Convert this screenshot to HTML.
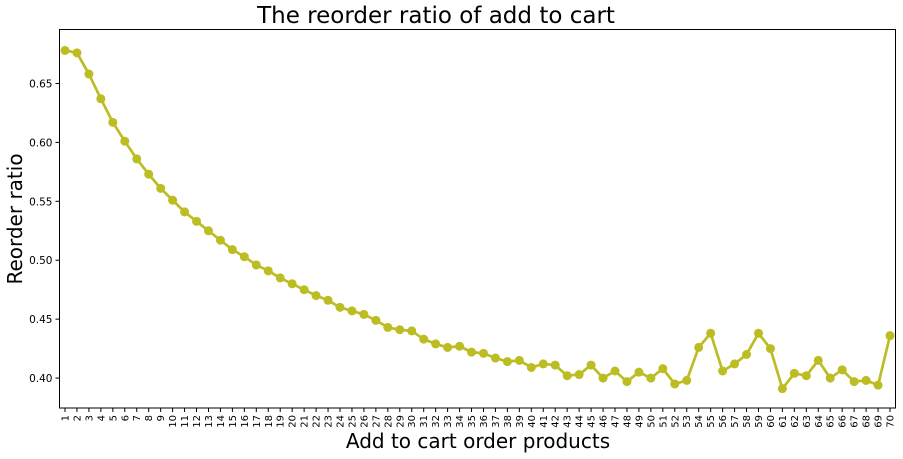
<!DOCTYPE html>
<html><head><meta charset="utf-8"><style>
html,body{margin:0;padding:0;background:#fff;}
svg{display:block;font-family:"DejaVu Sans","Liberation Sans",sans-serif;}
</style></head><body>
<svg id="chart" width="903" height="459">
<text x="436" y="23" font-size="23" text-anchor="middle">The reorder ratio of add to cart</text>
<text x="478" y="448" font-size="20" text-anchor="middle">Add to cart order products</text>
<text transform="translate(22,219) rotate(-90)" font-size="20" text-anchor="middle">Reorder ratio</text>
<g id="ticks"></g>
<g id="marks"></g>
<rect x="59.5" y="29.5" width="836" height="378.5" fill="none" stroke="#000" stroke-width="1"/>
</svg>
<script>
const categories = Array.from({length:70},(_,i)=>String(i+1));
const reorderRatio = [0.678,0.676,0.658,0.637,0.617,0.601,0.586,0.573,0.561,0.551,0.541,0.533,0.525,0.517,0.509,0.503,0.496,0.491,0.485,0.480,0.475,0.470,0.466,0.460,0.457,0.454,0.449,0.443,0.441,0.440,0.433,0.429,0.426,0.427,0.422,0.421,0.417,0.414,0.415,0.409,0.412,0.411,0.402,0.403,0.411,0.400,0.406,0.397,0.405,0.400,0.408,0.395,0.398,0.426,0.438,0.406,0.412,0.420,0.438,0.425,0.391,0.404,0.402,0.415,0.400,0.407,0.397,0.398,0.394,0.436];
const yTicks = [0.40,0.45,0.50,0.55,0.60,0.65];
const yTickLabels = ["0.40","0.45","0.50","0.55","0.60","0.65"];

const NS="http://www.w3.org/2000/svg";
const L=59.5,R=895.5,T=29.5,B=408;
const yMin=0.3746,yMax=0.6958;
const xs=i=>65+i*(890-65)/(categories.length-1);
const ys=v=>B-(v-yMin)/(yMax-yMin)*(B-T);
const tg=document.getElementById('ticks'), mg=document.getElementById('marks');
function mk(tag,attrs,parent){const e=document.createElementNS(NS,tag);for(const k in attrs)e.setAttribute(k,attrs[k]);parent.appendChild(e);return e;}
yTicks.forEach((v,i)=>{
  const y=ys(v);
  const t=mk('line',{x1:L-4,x2:L,y1:y,y2:y,stroke:'#000'},tg);
  
  
  const lb=mk('text',{x:L-7,y:y+4,'font-size':10.5,'text-anchor':'end'},tg);
  lb.textContent=yTickLabels[i];
  
  
});
categories.forEach((c,i)=>{
  const x=xs(i);
  const t=mk('line',{x1:x,x2:x,y1:B,y2:B+4,stroke:'#000'},tg);
  
  
  const lb=mk('text',{transform:`translate(${x+3.5},${B+7}) rotate(-90)`,'font-size':10,'text-anchor':'end'},tg);
  lb.textContent=c;
  
  
});
const pts=reorderRatio.map((v,i)=>xs(i)+','+ys(v)).join(' ');
const line=mk('polyline',{points:pts,fill:'none',stroke:'#bcbd22','stroke-width':2.7,'stroke-linejoin':'round'},mg);


reorderRatio.forEach((v,i)=>{
  const c=mk('circle',{cx:xs(i),cy:ys(v),r:4.5,fill:'#bcbd22'},mg);
  
  
});
</script>
</body></html>
